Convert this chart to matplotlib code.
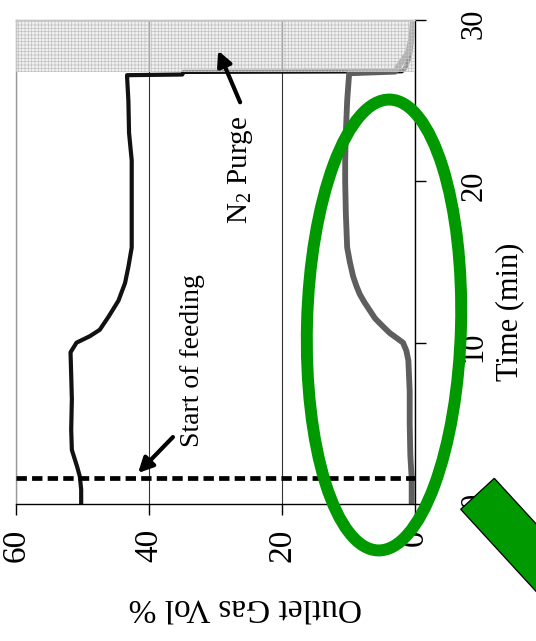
import numpy as np
import matplotlib.pyplot as plt
from matplotlib.patches import Ellipse, Polygon

plt.rcParams['font.family'] = ['Liberation Serif', 'DejaVu Serif']
plt.rcParams['mathtext.fontset'] = 'custom'
plt.rcParams['mathtext.rm'] = 'Liberation Serif'
plt.rcParams['mathtext.it'] = 'Liberation Serif:italic'
plt.rcParams['hatch.linewidth'] = 0.5

# outlet gas composition during the run (time in min, vol %)
time_black = [0, 0.9, 1.7, 2.3, 3.35, 4.6, 6.5, 8.0, 9.4, 10.0, 10.4, 10.8, 11.6, 12.6,
              13.7, 14.7, 15.9, 18.0, 21.3, 23.0, 25.0, 26.5, 26.58, 26.62, 26.78, 26.82,
              27.0, 27.5, 28.0, 29.0, 30.0]
gas_black = [50.2, 50.2, 50.4, 50.8, 51.6, 51.7, 51.6, 51.7, 51.8, 50.9, 48.9, 47.4, 46.1, 44.6,
             43.6, 43.1, 42.6, 42.6, 42.6, 43.0, 43.1, 43.3, 43.3, 35.0, 34.8, 2.0,
             1.5, 1.0, 0.7, 0.4, 0.3]

time_gray = [0, 1.6, 3.0, 5.0, 7.0, 8.9, 9.5, 10.0, 10.3, 10.6, 11.0, 11.5, 12.0, 12.5, 13.0,
             13.5, 14.1, 15.0, 15.9, 18.0, 20.0, 21.3, 23.0, 25.0, 26.7, 26.8, 27.0, 27.3,
             28.0, 29.0, 30.0]
gas_gray = [0.5, 0.5, 0.7, 0.8, 0.8, 1.0, 1.3, 1.8, 2.8, 3.8, 4.8, 6.0, 6.8, 7.6, 8.3,
            8.8, 9.3, 9.8, 10.2, 10.4, 10.5, 10.5, 10.4, 10.2, 9.9, 3.0, 2.7, 2.2,
            1.0, 0.5, 0.3]

feed_start = 1.6
purge_start = 26.8
gas_ticks = [60, 40, 20, 0]
time_ticks = [0, 10, 20, 30]

fig = plt.figure(figsize=(5.36, 6.41), dpi=100)
ax = fig.add_axes([16 / 536, 137 / 641, 399 / 536, 484 / 641])

# the chart is laid on its side: gas % runs right-to-left, time runs upward
ax.plot(gas_black, time_black, color='#111111', lw=3, solid_joinstyle='round', zorder=2)
ax.plot(gas_gray, time_gray, color='#5e5e5e', lw=4.2, solid_joinstyle='round', zorder=2)
ax.axhline(feed_start, color='k', lw=3.4, dashes=(2.2, 1.1), zorder=4)
ax.axhspan(purge_start, 30, facecolor=(0.9, 0.9, 0.9, 0.6), hatch='+++++',
           edgecolor=(0.76, 0.76, 0.76), lw=0, zorder=3)

ax.set_xlim(60, 0)
ax.set_ylim(0, 30)
ax.set_xticks(gas_ticks)
ax.set_yticks(time_ticks)
ax.yaxis.tick_right()
ax.grid(axis='x', color='#333333', lw=0.8)
ax.set_axisbelow(True)
ax.tick_params(axis='x', direction='out', length=8, width=1, labelsize=24,
               labelrotation=90, pad=10)
ax.tick_params(axis='y', direction='out', length=8, width=1, labelsize=22,
               labelrotation=90, pad=24)
for side, col in [('left', '#999999'), ('top', '#999999'), ('bottom', 'k'), ('right', 'k')]:
    ax.spines[side].set_color(col)
    ax.spines[side].set_linewidth(1)

fig.text(245 / 536, 1 - 607 / 641, 'Outlet Gas Vol %', fontsize=24, rotation=180,
         ha='center', va='center')
fig.text(510 / 536, 1 - 312 / 641, 'Time (min)', fontsize=22, rotation=90,
         ha='center', va='center')

arrow = dict(arrowstyle='-|>', color='k', lw=3, mutation_scale=22, shrinkA=0, shrinkB=0)
ax.annotate('', xy=(41.65, 1.92), xytext=(36.4, 4.15), arrowprops=arrow, zorder=5)
ax.text(33.5, 8.9, 'Start of feeding', fontsize=20, rotation=90, ha='center', va='center')
ax.annotate('', xy=(29.6, 28.1), xytext=(26.3, 24.9), arrowprops=arrow, zorder=5)
ax.text(26.3, 20.7, 'N$_2$ Purge', fontsize=21, rotation=90, ha='center', va='center')

# green highlight drawn on top in pixel units
ov = fig.add_axes([0, 0, 1, 1])
ov.set_xlim(0, 536)
ov.set_ylim(641, 0)
ov.axis('off')
ov.add_patch(Ellipse((384, 325), 154, 451, angle=1.5, fill=False, ec='#009900', lw=8.6))
ov.add_patch(Polygon([(460.7, 509.3), (494.3, 478.3), (794.3, 805.3), (760.7, 836.3)],
                     closed=True, fc='#009900', ec='k', lw=0.9))

fig.savefig('out.png', dpi=100)
